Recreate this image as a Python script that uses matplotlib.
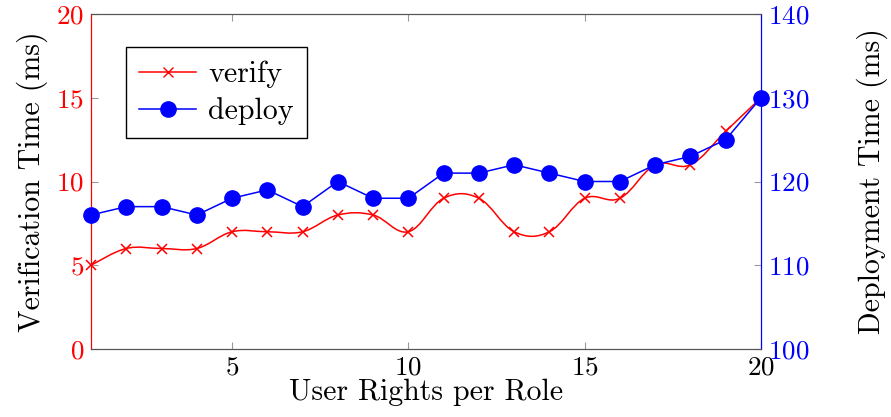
import matplotlib
matplotlib.use('Agg')
import matplotlib.pyplot as plt
from matplotlib.path import Path
from matplotlib.patches import PathPatch
from matplotlib.lines import Line2D

rights = list(range(1, 21))
verify_ms = [5, 6, 6, 6, 7, 7, 7, 8, 8, 7, 9, 9, 7, 7, 9, 9, 11, 11, 13, 15]
deploy_ms = [116, 117, 117, 116, 118, 119, 117, 120, 118, 118,
             121, 121, 122, 121, 120, 120, 122, 123, 125, 130]


def smooth_path(xs, ys, tension=0.55):
    """cubic bezier through the points, like tikz 'smooth'"""
    pts = list(zip(xs, ys))
    n = len(pts)
    verts = [pts[0]]
    codes = [Path.MOVETO]
    k = tension / 3.0
    for i in range(n - 1):
        p0 = pts[i - 1] if i > 0 else pts[i]
        p1 = pts[i]
        p2 = pts[i + 1]
        p3 = pts[i + 2] if i + 2 < n else pts[i + 1]
        c1 = (p1[0] + k * (p2[0] - p0[0]), p1[1] + k * (p2[1] - p0[1]))
        c2 = (p2[0] - k * (p3[0] - p1[0]), p2[1] - k * (p3[1] - p1[1]))
        verts += [c1, c2, p2]
        codes += [Path.CURVE4] * 3
    return Path(verts, codes)


def main():
    plt.rcParams['font.family'] = 'cmr10'
    plt.rcParams['mathtext.fontset'] = 'cm'
    plt.rcParams['axes.unicode_minus'] = False
    plt.rcParams['axes.formatter.use_mathtext'] = True

    fig = plt.figure(figsize=(8.91, 4.17), dpi=100)
    ax = fig.add_axes([91 / 891, 1 - 349 / 417, 670 / 891, 335 / 417])
    ax2 = ax.twinx()

    red = '#ff0000'
    blue = '#0000ff'

    ax.add_patch(PathPatch(smooth_path(rights, verify_ms), fill=False,
                           edgecolor=red, lw=1.1, zorder=3))
    ax.plot(rights, verify_ms, ls='none', marker='x', color=red,
            markersize=7, mew=1.1, zorder=4, clip_on=False)
    ax2.plot(rights, deploy_ms, color=blue, marker='o', markersize=11,
             lw=1.1, zorder=4, clip_on=False)

    ax.set_xlim(1, 20)
    ax.set_ylim(0, 20)
    ax2.set_ylim(100, 140)
    ax.set_xticks([5, 10, 15, 20])
    ax.set_yticks([0, 5, 10, 15, 20])
    ax2.set_yticks([100, 110, 120, 130, 140])

    fs = 19.5
    lfs = 21.5
    ax.tick_params(axis='x', direction='in', length=5, color='#999999',
                   labelsize=fs, top=True, pad=5)
    ax.tick_params(axis='y', direction='in', length=5, color='#999999',
                   labelsize=fs, labelcolor=red, pad=5)
    ax2.tick_params(axis='y', direction='in', length=5, color='#999999',
                    labelsize=fs, labelcolor=blue, pad=5)

    for a in (ax, ax2):
        a.spines['top'].set_color('#555555')
        a.spines['bottom'].set_color('#555555')
        a.spines['left'].set_color(red)
        a.spines['right'].set_color(blue)

    ax.set_xlabel('User Rights per Role', fontsize=lfs, labelpad=-1)
    ax.set_ylabel('Verification Time (ms)', fontsize=lfs, labelpad=6)
    ax2.set_ylabel('Deployment Time (ms)', fontsize=lfs, labelpad=34)

    handles = [
        Line2D([], [], color=red, marker='x', markersize=7, lw=1.1),
        Line2D([], [], color=blue, marker='o', markersize=11, lw=1.1),
    ]
    leg = ax2.legend(handles, ['verify', 'deploy'], loc='upper left',
                     bbox_to_anchor=(0.052, 0.901), borderaxespad=0,
                     fontsize=lfs, fancybox=False, edgecolor='black',
                     framealpha=1, handlelength=1.9, borderpad=0.45,
                     labelspacing=0.3, handletextpad=0.4)
    leg.get_frame().set_linewidth(1.0)

    fig.savefig('out.png', dpi=100)


if __name__ == '__main__':
    main()
